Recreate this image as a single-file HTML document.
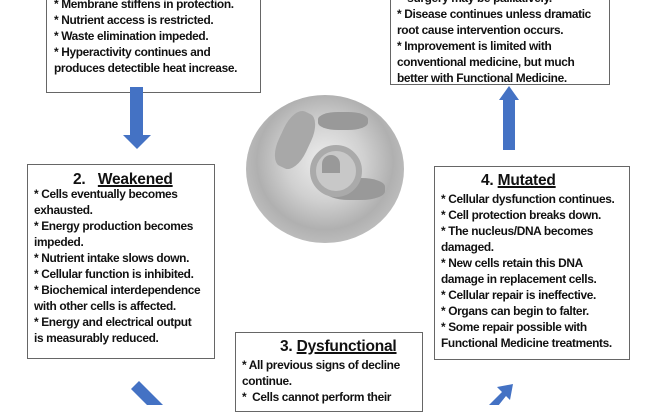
<!DOCTYPE html>
<html><head><meta charset="utf-8"><style>
body{margin:0;width:660px;height:405px;overflow:hidden;background:#fff;position:relative;font-family:"Liberation Sans",sans-serif;font-weight:bold;color:#111}
.b{position:absolute;border:1.3px solid #666;background:#fff;box-sizing:border-box}
.t{position:absolute;font-size:11.9px;line-height:16px;letter-spacing:-0.35px;white-space:nowrap}
.h{position:absolute;font-size:15.5px;white-space:nowrap;letter-spacing:-0.2px}
.h u{text-decoration:underline;text-decoration-thickness:1.5px}
</style></head><body>
<div style="position:absolute;left:246px;top:95px;width:158px;height:148px;border-radius:50%;background:radial-gradient(circle at 50% 45%,#eee 0,#d0d0d0 35%,#b0b0b0 60%,#c8c8c8 85%,#fff 100%)"></div>
<div style="position:absolute;left:280px;top:110px;width:30px;height:60px;border-radius:40%;background:#a8a8a8;transform:rotate(25deg)"></div>
<div style="position:absolute;left:318px;top:112px;width:50px;height:18px;border-radius:40%;background:#999"></div>
<div style="position:absolute;left:325px;top:178px;width:60px;height:22px;border-radius:40%;background:#999"></div>
<div style="position:absolute;left:310px;top:145px;width:40px;height:40px;border-radius:50%;background:#c8c8c8;border:6px solid #aaa"></div>
<div style="position:absolute;left:322px;top:155px;width:18px;height:18px;border-radius:50% 50% 0 0;background:#999"></div>

<div class="b" style="left:46px;top:-4px;width:215px;height:97px"></div>
<div class="t" style="left:54px;top:-4px">* Membrane stiffens in protection.<br>* Nutrient access is restricted.<br>* Waste elimination impeded.<br>* Hyperactivity continues and<br>produces detectible heat increase.</div>

<div class="b" style="left:390px;top:-4px;width:220px;height:89px"></div>
<div class="t" style="left:397px;top:-10px">&nbsp;* surgery may be palliatively.<br>* Disease continues unless dramatic<br>root cause intervention occurs.<br>* Improvement is limited with<br>conventional medicine, but much<br>better with Functional Medicine.</div>

<div class="b" style="left:27px;top:164px;width:188px;height:195px"></div>
<div class="h" style="left:73px;top:171px">2.&nbsp;&nbsp; <u>Weakened</u></div>
<div class="t" style="left:34px;top:186px">* Cells eventually becomes<br>exhausted.<br>* Energy production becomes<br>impeded.<br>* Nutrient intake slows down.<br>* Cellular function is inhibited.<br>* Biochemical interdependence<br>with other cells is affected.<br>* Energy and electrical output<br>is measurably reduced.</div>

<div class="b" style="left:434px;top:166px;width:196px;height:194px"></div>
<div class="h" style="left:481px;top:172px">4. <u>Mutated</u></div>
<div class="t" style="left:441px;top:191px">* Cellular dysfunction continues.<br>* Cell protection breaks down.<br>* The nucleus/DNA becomes<br>damaged.<br>* New cells retain this DNA<br>damage in replacement cells.<br>* Cellular repair is ineffective.<br>* Organs can begin to falter.<br>* Some repair possible with<br>Functional Medicine treatments.</div>

<div class="b" style="left:235px;top:332px;width:188px;height:80px"></div>
<div class="h" style="left:280px;top:338px">3. <u>Dysfunctional</u></div>
<div class="t" style="left:242px;top:357px">* All previous signs of decline<br>continue.<br>*&nbsp; Cells cannot perform their</div>

<svg style="position:absolute;left:0;top:0" width="660" height="405">
<polygon points="130,87 143,87 143,135 151,135 137,149 123,135 130,135" fill="#4472c4"/>
<polygon points="503,150 515,150 515,100 519,100 509,86 499,100 503,100" fill="#4472c4"/>
<polygon points="131,389 139,381 165,407 157,415" fill="#4472c4"/>
<polygon points="484,410 502,392 497,387 513,384 510,400 506,396 490,416" fill="#4472c4"/>
</svg>
</body></html>
